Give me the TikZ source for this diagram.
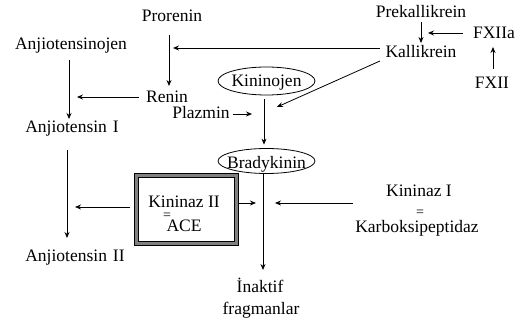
\documentclass[tikz,border=0pt]{standalone}
\usepackage{fontspec}
\setmainfont{Liberation Serif}
\usetikzlibrary{arrows.meta,shapes.geometric,calc}
\begin{document}
\begin{tikzpicture}[x=1pt,y=-1pt,
  lbl/.style={anchor=base,inner sep=0pt,font=\fontsize{17.5}{21}\selectfont},
  eqs/.style={anchor=base,inner sep=0pt,font=\fontsize{14}{16}\selectfont},
  arr/.style={-{Stealth[length=6pt,width=5pt]},line width=0.8pt},
  oval/.style={draw,ellipse,line width=0.8pt,inner sep=0pt,minimum width=97pt},
  framebox/.style={draw,line width=0.9pt,double=gray,double distance=2.6pt,inner sep=0pt,minimum width=100pt,minimum height=68pt}
]
\useasboundingbox[fill=white] (0,0) rectangle (523,323);

% texts
\node[lbl] (prorenin) at (172,22) {Prorenin};
\node[lbl] (angen) at (71,49.5) {Anjiotensinojen};
\node[lbl] (renin) at (167,103) {Renin};
\node[lbl] (plazmin) at (201,119) {Plazmin};
\node[lbl] (ang1) at (72,133) {Anjiotensin\hspace{6pt}I};
\node[lbl] (ang2) at (75,262) {Anjiotensin\hspace{6pt}II};
\node[lbl] (prekal) at (421,17.5) {Prekallikrein};
\node[lbl] (kal) at (421,58) {Kallikrein};
\node[lbl] (fxiia) at (494,39) {FXIIa};
\node[lbl] (fxii) at (492,89) {FXII};

% ellipses
\node[oval,minimum height=28pt] (kininojenE) at (266.5,81) {};
\node[lbl] (kininojen) at (266.5,87) {Kininojen};
\node[oval,minimum height=25pt] (bradyE) at (266.5,161) {};
\node[lbl] (brady) at (266.5,169) {Bradykinin};

% ACE box
\node[framebox] (ace) at (186.5,209.5) {};
\node[lbl] (kininaz2) at (184,208) {Kininaz II};
\node[eqs] (eq2) at (167,219.5) {=};
\node[lbl] (acetext) at (184,232) {ACE};

% Kininaz I
\node[lbl] (kininaz1) at (419,197) {Kininaz I};
\node[eqs] (eq1) at (420,216.5) {=};
\node[lbl] (karbok) at (417,233) {Karboksipeptidaz};

% inactive
\node[lbl] (inaktif) at (260,293) {İnaktif};
\node[lbl] (fragman) at (261,315) {fragmanlar};

% arrows
\draw[arr] ($(prorenin.base)+(-3,13)$) -- ($(renin.base)+(2,-17)$);
\draw[arr] ($(kal.base)+(-41,-10)$) -- ($(prorenin.base)+(1,26)$);
\draw[arr] ($(angen.base)+(-2,10.5)$) -- ($(ang1.base)+(-3,-14)$);
\draw[arr] ($(renin.base)+(-28,-6)$) -- ($(renin.base)+(-90,-6)$);
\draw[arr] ($(plazmin.base)+(32,-5)$) -- ($(plazmin.base)+(51,-5)$);
\draw[arr] ($(kininojenE.south)+(-2.5,4)$) -- ($(bradyE.north)+(-2.5,-3.5)$);
\draw[arr] ($(kal.base)+(-41,3)$) -- ($(kininojenE.center)+(10.5,26)$);
\draw[arr] ($(prekal.base)+(0,4.5)$) -- ($(kal.base)+(0,-15)$);
\draw[arr] ($(fxiia.base)+(-31,-6)$) -- ($(fxiia.base)+(-66,-6)$);
\draw[arr] ($(fxii.base)+(1,-20)$) -- ($(fxiia.base)+(-1,8)$);
\draw[arr] ($(ang1.base)+(-5,17)$) -- ($(ang2.base)+(-8,-24)$);
\draw[arr] ($(ace.west)+(-6,-2.5)$) -- ($(ace.west)+(-61,-2.5)$);
\draw[arr] ($(ace.east)+(2.5,-6.5)$) -- ($(ace.east)+(19,-6.5)$);
\draw[arr] ($(bradyE.south)+(-3.5,0)$) -- ($(inaktif.base)+(3,-23)$);
\draw[arr] ($(kininaz1.base)+(-66,6)$) -- ($(kininaz1.base)+(-144,6)$);
\end{tikzpicture}
\end{document}
